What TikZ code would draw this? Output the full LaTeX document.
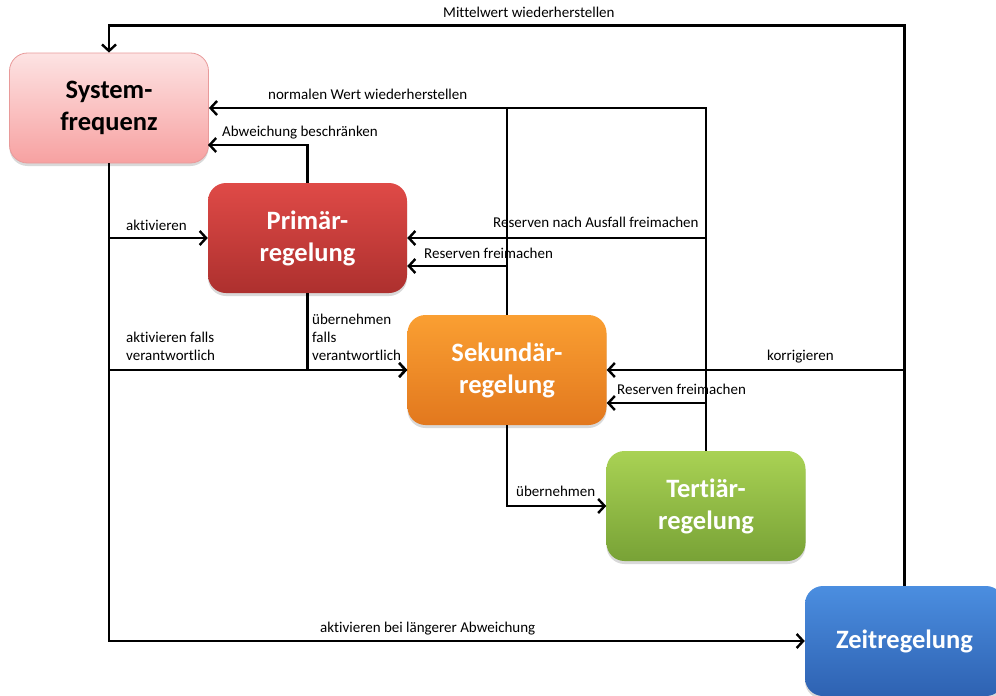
\documentclass[tikz,border=0pt]{standalone}
\usepackage{fontspec}
\setmainfont[Ligatures=CommonOff]{Carlito}
\usetikzlibrary{arrows.meta,shadows}
\definecolor{pinkTop}{HTML}{FDE3E3}
\definecolor{pinkBot}{HTML}{F7A1A1}
\definecolor{pinkLine}{HTML}{E89A9A}
\definecolor{redTop}{HTML}{DF4A47}
\definecolor{redBot}{HTML}{AD302E}
\definecolor{orTop}{HTML}{FA9F32}
\definecolor{orBot}{HTML}{E2781E}
\definecolor{grTop}{HTML}{A9D254}
\definecolor{grBot}{HTML}{78A236}
\definecolor{blTop}{HTML}{4B8EE0}
\definecolor{blBot}{HTML}{2E62B2}
\begin{document}
\begin{tikzpicture}[x=1pt,y=-1pt,
  box/.style={rounded corners=18pt, minimum width=199pt, minimum height=110pt,
    inner sep=0pt, align=center, font=\bfseries\fontsize{26.5}{32}\selectfont,
    text=white, drop shadow={opacity=0.3, shadow xshift=0pt, shadow yshift=-3pt}},
  conn/.style={line width=2.6pt, -{Straight Barb[length=6.5pt,width=14pt,line width=2.4pt]}},
  plain/.style={line width=2.6pt},
  lbl/.style={font=\fontsize{15}{18}\selectfont, inner sep=0pt, anchor=base west},
  lblm/.style={font=\fontsize{15}{18}\selectfont, inner sep=0pt, anchor=north west, align=left}
]
\useasboundingbox (0,0) rectangle (996,696);

% boxes
\node[box, top color=pinkTop, bottom color=pinkBot, draw=pinkLine, line width=0.8pt, text=black] (sys) at (109,108) {System-\\frequenz};
\node[box, top color=redTop, bottom color=redBot] (prim) at (307.5,238) {Primär-\\regelung};
\node[box, top color=orTop, bottom color=orBot] (sek) at (507,370) {Sekundär-\\regelung};
\node[box, top color=grTop, bottom color=grBot] (ter) at (706,506) {Tertiär-\\regelung};
\node[box, top color=blTop, bottom color=blBot] (zeit) at (904.5,641) {Zeitregelung};

% labels
\node[lbl] (l1) at (443,17.5) {Mittelwert wiederherstellen};
\node[lbl] (l2) at (268,99) {normalen Wert wiederherstellen};
\node[lbl] (l3) at (222,136) {Abweichung beschränken};
\node[lbl] (l4) at (126,230) {aktivieren};
\node[lbl] (l5) at (493,227) {Reserven nach Ausfall freimachen};
\node[lbl] (l6) at (424,258) {Reserven freimachen};
\node[lblm] (l7) at (126,332) {aktivieren falls\\verantwortlich};
\node[lblm] (l8) at (312,314) {übernehmen\\falls\\verantwortlich};
\node[lbl] (l9) at (767,360) {korrigieren};
\node[lbl] (l10) at (617,394) {Reserven freimachen};
\node[lbl] (l11) at (516,496) {übernehmen};
\node[lbl] (l12) at (320,632) {aktivieren bei längerer Abweichung};

% helper coordinates
\coordinate (mtop) at (109,25.7);
\coordinate (abw) at (208,145);

% connectors
\draw[conn] (zeit.north) |- (mtop) -- (sys.north);
\draw[conn] (ter.north) |- (sys.east);
\draw[plain] (sek.north) -- (sek.north |- sys.east);
\draw[conn] (prim.north) |- (abw);
\draw[conn] (sys.south) |- (prim.west);
\draw[conn] (sys.south) |- (sek.west);
\draw[conn] (sys.south) |- (zeit.west);
\draw[conn] (prim.south) |- (sek.west);
\draw[conn] (ter.north) |- (prim.east);
\draw[conn] (sek.north) |- ([yshift=-28pt]prim.east);
\draw[conn] (zeit.north) |- (sek.east);
\draw[conn] (ter.north) |- ([yshift=-33pt]sek.east);
\draw[conn] (sek.south) |- (ter.west);
\end{tikzpicture}
\end{document}
